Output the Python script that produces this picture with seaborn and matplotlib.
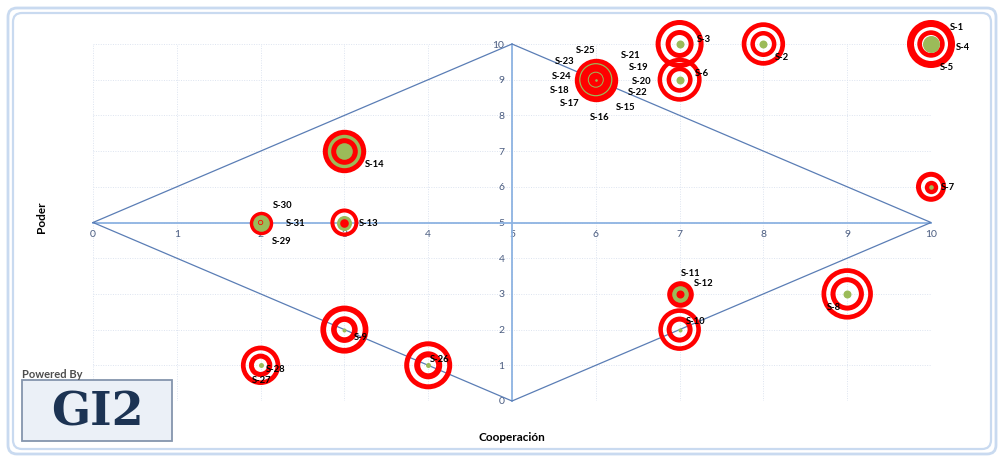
import matplotlib
matplotlib.use("Agg")
import matplotlib.pyplot as plt
from matplotlib.patches import FancyBboxPatch
from matplotlib.transforms import IdentityTransform
import seaborn as sns
import pandas as pd

# ---- stakeholder map data -------------------------------------------------
names = [f"S-{i}" for i in range(1, 32)]
cooperacion = [10, 8, 7, 10, 10, 7, 10, 9, 3, 7, 7, 7, 3, 3,
               6, 6, 6, 6, 6, 6, 6, 6, 6, 6, 6,
               4, 2, 2, 2, 2, 2]
poder = [10, 10, 10, 10, 10, 9, 6, 3, 2, 2, 3, 3, 5, 7,
         9, 9, 9, 9, 9, 9, 9, 9, 9, 9, 9,
         1, 1, 1, 5, 5, 5]
tick_values = list(range(0, 11))

# label offsets (pixels, right / down) for each stakeholder name
label_dx = [19, 11, 17, 25, 9, 15, 10, -20, 9, 6, 1, 14, 14, 20,
            20, -6, -36, -46, 33, 36, 25, 32, -41, -44, -20,
            2, -9, 5, 11, 12, 25]
label_dy = [-17, 13, -5, 4, 24, -6, 1, 14, 8, -8, -20, -10, 1, 13,
            28, 38, 24, 11, -12, 2, -24, 13, -18, -3, -29,
            -6, 15, 4, 19, -17, 1]

df = pd.DataFrame({"name": names, "coop": cooperacion, "poder": poder})

RED = "#FF0000"
GREEN = "#9BBB59"

# target rings per location: (outer radius px, inner radius px, colour); inner 0 = solid disc
targets = {
    (10, 10): [(24, 17, RED), (13.7, 9, RED), (8.5, 0, GREEN)],
    (8, 10): [(21.7, 17, RED), (13, 8.5, RED), (4, 0, GREEN)],
    (7, 10): [(24, 19, RED), (14, 9, RED), (4, 0, GREEN)],
    (7, 9): [(22, 17.5, RED), (13, 8.5, RED), (4, 0, GREEN)],
    (6, 9): [(21.7, 0, RED), (16.6, 15.4, GREEN), (8, 7, GREEN), (1.3, 0, GREEN)],
    (3, 7): [(21.7, 0, RED), (16.7, 0, GREEN), (13.3, 0, RED), (8.3, 0, GREEN)],
    (3, 5): [(14, 10, RED), (7.5, 0, GREEN), (4.3, 0, RED)],
    (2, 5): [(11.7, 0, RED), (8.3, 0, GREEN), (2.6, 1.8, RED)],
    (10, 6): [(15, 10, RED), (6.7, 0, RED), (2.3, 0, GREEN)],
    (7, 3): [(13.3, 0, RED), (8.3, 0, GREEN), (4, 0, RED)],
    (7, 2): [(21.3, 16.7, RED), (13, 8, RED), (2, 0, GREEN)],
    (9, 3): [(25.7, 21, RED), (16.7, 11.7, RED), (4, 0, GREEN)],
    (3, 2): [(24, 18.3, RED), (13.3, 7.7, RED), (2, 0, GREEN)],
    (4, 1): [(24, 19, RED), (14, 8, RED), (2.5, 0, GREEN)],
    (2, 1): [(19.7, 15, RED), (11.7, 6.7, RED), (2.5, 0, GREEN)],
}

# ---- figure -----------------------------------------------------------------
sns.set_theme(style="white")
plt.rcParams["font.family"] = ["Lato", "DejaVu Sans"]

W, H, DPI = 1002, 457, 100
fig = plt.figure(figsize=(W / DPI, H / DPI), dpi=DPI)
fig.patch.set_facecolor("white")

ax = fig.add_axes([93 / W, 56 / H, 838 / W, 357 / H])
ax.set_xlim(tick_values[0], tick_values[-1])
ax.set_ylim(tick_values[0], tick_values[-1])
ax.set_facecolor("white")

# faint dotted grid
ax.set_xticks(tick_values)
ax.set_yticks(tick_values)
ax.grid(True, color="#DDE4F0", linestyle=(0, (1, 1.5)), linewidth=0.7)
ax.set_axisbelow(True)

# axes crossing at the centre of the grid
mid_x = (tick_values[0] + tick_values[-1]) / 2
mid_y = mid_x
axis_col = "#8DB3E2"
for s in ["top", "right"]:
    ax.spines[s].set_visible(False)
ax.spines["bottom"].set_position(("data", mid_y))
ax.spines["left"].set_position(("data", mid_x))
for s in ["bottom", "left"]:
    ax.spines[s].set_color(axis_col)
    ax.spines[s].set_linewidth(1.3)
    ax.spines[s].set_zorder(1)
ax.tick_params(axis="both", which="both", length=2.5, width=0.8, color=axis_col,
               labelcolor="#4A5C80", labelsize=7.5, direction="out", pad=3)

# diamond outline
lo, hi = tick_values[0], tick_values[-1]
dx_pts = [lo, mid_x, hi, mid_x, lo]
dy_pts = [mid_y, hi, mid_y, lo, mid_y]
ax.plot(dx_pts, dy_pts, color="#5A7DB5", linewidth=0.9, zorder=2, clip_on=False)

# targets
px2pt = 72 / DPI
z = 3
for (cx, cy), rings in targets.items():
    for r_out, r_in, col in rings:
        if r_in == 0:
            d = 2 * r_out * px2pt
            sns.scatterplot(x=[cx], y=[cy], s=d ** 2, color=col, linewidth=0,
                            marker="o", ax=ax, clip_on=False, zorder=z, legend=False)
        else:
            d = (r_out + r_in) * px2pt
            lw = (r_out - r_in) * px2pt
            sns.scatterplot(x=[cx], y=[cy], s=d ** 2, facecolor="none", edgecolor=col,
                            linewidth=lw, marker="o", ax=ax, clip_on=False, zorder=z,
                            legend=False)
        z += 0.01

# stakeholder names
for i, row in df.iterrows():
    ax.annotate(row["name"], (row["coop"], row["poder"]),
                xytext=(label_dx[i] * px2pt, -label_dy[i] * px2pt),
                textcoords="offset points", ha="left", va="center",
                fontsize=6.8, fontweight="bold", color="black", zorder=10,
                annotation_clip=False)

ax.set_xlabel("Cooperación", fontsize=8.5, fontweight="bold", color="black")
ax.set_ylabel("Poder", fontsize=8.5, fontweight="bold", color="black")
ax.xaxis.set_label_coords(0.5, -0.087)
ax.yaxis.set_label_coords(-0.055, 0.515)

# rounded double frame around the chart
frame_col = "#C9DAF0"
for off, lw in [(0, 2.0), (5, 1.6)]:
    x0, y0 = 8 + off, 3 + off
    fig.add_artist(FancyBboxPatch((x0, y0), W - 2 * x0 + 2, H - y0 - 8 - off,
                                  boxstyle="round,pad=0,rounding_size=9",
                                  transform=IdentityTransform(), fill=False,
                                  edgecolor=frame_col, linewidth=lw))

# logo
fig.text(22 / W, 1 - 374 / H, "Powered By", fontsize=8, color="#4D4D4D",
         fontweight="bold", ha="left", va="center")
fig.add_artist(FancyBboxPatch((22, H - 441), 150, 61, boxstyle="square,pad=0",
                              transform=IdentityTransform(), facecolor="#EBF0F7",
                              edgecolor="#8595AD", linewidth=1.3))
fig.text(97 / W, 1 - 412 / H, "GI2", fontsize=33, color="#1C3353",
         fontweight="bold", family="DejaVu Serif", ha="center", va="center")

fig.savefig("out.png", dpi=DPI)
